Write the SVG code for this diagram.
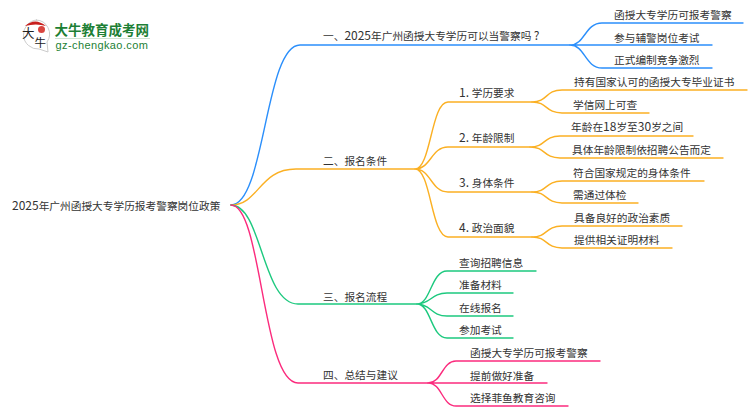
<svg xmlns="http://www.w3.org/2000/svg" width="750" height="410" viewBox="0 0 750 410">
<style>
text{font-family:"Noto Sans CJK SC","Liberation Sans",sans-serif;font-size:10.7px;fill:#333}
.d{font-size:12px}
.l{fill:none;stroke-width:1.4;stroke-linecap:round}
.b{stroke:#2b8ffb}.o{stroke:#fbb023}.g{stroke:#1dc97f}.p{stroke:#fb2b7d}
</style>
<rect width="750" height="410" fill="#fff"/>
<g id="logo">
<path d="M36 20a14 14 0 0 1 11 22l1 10-9-3a14.500 14.500 0 1 1-2-29z" fill="#fff" stroke="#ccc" stroke-width="1"/>
<path d="M25 26q10-9 21 0q-10-3-21 0z" fill="#c8201e"/>
<circle cx="41.500" cy="29.500" r="3.500" fill="#d8453f"/>
<text x="22" y="38" style="font-size:12.500px;fill:#222">大</text>
<text x="34.500" y="47" style="font-size:11.500px;fill:#222">牛</text>
<text x="54.500" y="34.500" style="font-size:13.500px;font-weight:700;fill:#1d7f35">大牛教育成考网</text>
<path d="M55 38.500H150" stroke="#cfe3d2" stroke-width="1"/>
<text x="55.500" y="49" style="font-size:11px;letter-spacing:.4px;fill:#1d7f35;font-family:'Liberation Sans',sans-serif">gz-chengkao.com</text>
</g>
<g id="connectors">
<path class="l b" d="M231 205C265 205 265 45 300 45H570"/>
<path class="l o" d="M231 205C259 205 259 169 296 169H415"/>
<path class="l g" d="M231 205C262 205 262 304 298 304H417"/>
<path class="l p" d="M231 205C262 205 262 383 298 383H428"/>
<path class="l b" d="M570 45C585 45 585 23 602 23H743M570 45H712M570 45C585 45 585 68 602 68H712"/>
<path class="l o" d="M415 169C431 169 431 102 448 102H532M415 169C431 169 431 147 448 147H530M415 169C431 169 431 192 448 192H532M415 169C431 169 431 237 448 237H532"/>
<path class="l o" d="M532 102C548 102 545 90 562 90H747M532 102C548 102 545 113 562 113H649"/>
<path class="l o" d="M530 147C546 147 543 136 560 136H693M530 147C546 147 543 158 560 158H723"/>
<path class="l o" d="M532 192C548 192 545 181 562 181H704M532 192C548 192 545 203 562 203H638"/>
<path class="l o" d="M532 237C548 237 545 226 562 226H682M532 237C548 237 545 248 562 248H672"/>
<path class="l g" d="M417 304C431 304 431 271 447 271H536M417 304C431 304 431 293 447 293H513M417 304C431 304 431 316 447 316H513M417 304C431 304 431 338 447 338H513"/>
<path class="l p" d="M428 383C442 383 442 361 456 361H600M428 383H547M428 383C442 383 442 406 456 406H568"/>
</g>
<g id="root"><text x="12" y="209.500"><tspan class="d">2025</tspan>年广州函授大专学历报考警察岗位政策</text></g>
<g id="n1"><text x="323" y="40"><tspan dx="0">一、</tspan><tspan class="d">2025</tspan>年广州函授大专学历可以当警察吗 <tspan class="d">?</tspan></text></g>
<g id="n1-1"><text x="614" y="18.500">函授大专学历可报考警察</text></g>
<g id="n1-2"><text x="614" y="41.500">参与辅警岗位考试</text></g>
<g id="n1-3"><text x="614" y="63.500">正式编制竞争激烈</text></g>
<g id="n2"><text x="323" y="165">二、报名条件</text></g>
<g id="n2-1"><text x="459" y="97"><tspan class="d">1. </tspan>学历要求</text></g>
<g id="n2-1-1"><text x="574" y="85.500">持有国家认可的函授大专毕业证书</text></g>
<g id="n2-1-2"><text x="573" y="108.500">学信网上可查</text></g>
<g id="n2-2"><text x="459" y="142"><tspan class="d">2. </tspan>年龄限制</text></g>
<g id="n2-2-1"><text x="571" y="130.500">年龄在<tspan class="d">18</tspan>岁至<tspan class="d">30</tspan>岁之间</text></g>
<g id="n2-2-2"><text x="572" y="153.500">具体年龄限制依招聘公告而定</text></g>
<g id="n2-3"><text x="459" y="187"><tspan class="d">3. </tspan>身体条件</text></g>
<g id="n2-3-1"><text x="573" y="176.500">符合国家规定的身体条件</text></g>
<g id="n2-3-2"><text x="573" y="199">需通过体检</text></g>
<g id="n2-4"><text x="459" y="232"><tspan class="d">4. </tspan>政治面貌</text></g>
<g id="n2-4-1"><text x="574" y="221.500">具备良好的政治素质</text></g>
<g id="n2-4-2"><text x="574" y="244">提供相关证明材料</text></g>
<g id="n3"><text x="323" y="300.500">三、报名流程</text></g>
<g id="n3-1"><text x="459" y="266.500">查询招聘信息</text></g>
<g id="n3-2"><text x="459" y="289">准备材料</text></g>
<g id="n3-3"><text x="459" y="311.500">在线报名</text></g>
<g id="n3-4"><text x="459" y="334">参加考试</text></g>
<g id="n4"><text x="323" y="379">四、总结与建议</text></g>
<g id="n4-1"><text x="470" y="357">函授大专学历可报考警察</text></g>
<g id="n4-2"><text x="470" y="379.500">提前做好准备</text></g>
<g id="n4-3"><text x="470" y="401.500">选择菲鱼教育咨询</text></g>
</svg>
